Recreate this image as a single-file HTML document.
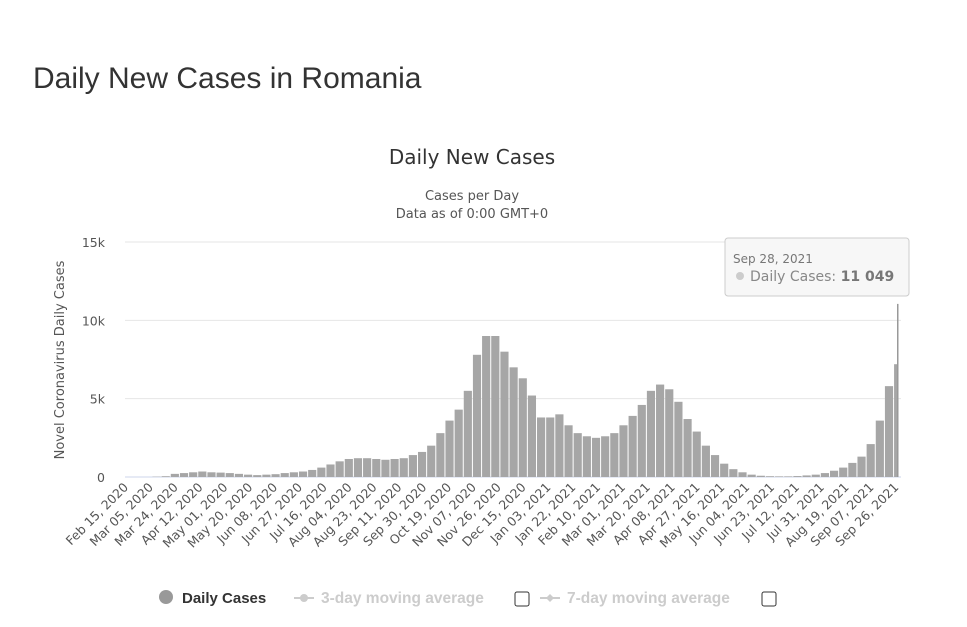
<!DOCTYPE html>
<html><head><meta charset="utf-8">
<style>
body{margin:0;background:#fff;font-family:"Liberation Sans",sans-serif;}
#wrap{position:relative;width:967px;height:627px;overflow:hidden;}
h1{position:absolute;left:33px;top:62px;margin:0;font-weight:normal;font-size:30px;color:#333;}
svg{position:absolute;left:0;top:0;}
</style></head><body>
<div id="wrap">
<h1>Daily New Cases in Romania</h1>
<svg id="chart" width="967" height="627" font-family="DejaVu Sans, Liberation Sans, sans-serif">
<text x="472" y="164" text-anchor="middle" font-size="20" fill="#333">Daily New Cases</text>
<text x="472" y="200" text-anchor="middle" font-size="13" fill="#555">Cases per Day</text>
<text x="472" y="218" text-anchor="middle" font-size="13" fill="#555">Data as of 0:00 GMT+0</text>
<text transform="translate(64,360) rotate(-90)" text-anchor="middle" font-size="13" fill="#555">Novel Coronavirus Daily Cases</text>
<g id="grid"></g><g id="bars"></g><g id="xlabels"></g>
<g>
<rect x="725" y="238" width="184" height="58" fill="#f7f7f7" stroke="#ccc" rx="3"/>
<text x="733" y="263" font-size="12" fill="#777">Sep 28, 2021</text>
<circle cx="740" cy="276" r="4" fill="#ccc"/>
<text x="750" y="281" font-size="14" fill="#888">Daily Cases: <tspan font-weight="bold" fill="#777">11 049</tspan></text>
</g>
<g font-family="Liberation Sans, sans-serif">
<g><circle cx="166" cy="597" r="7" fill="#999"/><text x="182" y="603" font-size="15" font-weight="bold" fill="#333">Daily Cases</text></g>
<g><line x1="294" y1="598" x2="314" y2="598" stroke="#ccc" stroke-width="2"/><circle cx="304" cy="598" r="4" fill="#ccc"/><text x="321" y="603" font-size="15.5" font-weight="bold" fill="#ccc">3-day moving average</text><rect x="515" y="592" width="14" height="14" fill="#fff" stroke="#333" rx="2"/></g>
<g><line x1="540" y1="598" x2="560" y2="598" stroke="#ccc" stroke-width="2"/><path d="M550 594 L554 598 L550 602 L546 598Z" fill="#ccc"/><text x="567" y="603" font-size="15.5" font-weight="bold" fill="#ccc">7-day moving average</text><rect x="762" y="592" width="14" height="14" fill="#fff" stroke="#333" rx="2"/></g>
</g>
</svg>
</div>
<script>
const weeklyCases=[0,0,0,20,50,200,250,300,350,300,280,250,200,150,120,150,180,250,300,350,450,600,800,1000,1150,1200,1200,1150,1100,1150,1200,1400,1600,2000,2800,3600,4300,5500,7800,9000,9000,8000,7000,6300,5200,3800,3800,4000,3300,2800,2600,2500,2600,2800,3300,3900,4600,5500,5900,5600,4800,3700,2900,2000,1400,850,500,300,150,80,50,40,40,60,100,150,250,400,600,900,1300,2100,3600,5800,7200];
const lastDayCases=11049;
const yTicks=[0,5000,10000,15000];
const yTickLabels=["0","5k","10k","15k"];
const xTickLabels=["Feb 15, 2020","Mar 05, 2020","Mar 24, 2020","Apr 12, 2020","May 01, 2020","May 20, 2020","Jun 08, 2020","Jun 27, 2020","Jul 16, 2020","Aug 04, 2020","Aug 23, 2020","Sep 11, 2020","Sep 30, 2020","Oct 19, 2020","Nov 07, 2020","Nov 26, 2020","Dec 15, 2020","Jan 03, 2021","Jan 22, 2021","Feb 10, 2021","Mar 01, 2021","Mar 20, 2021","Apr 08, 2021","Apr 27, 2021","May 16, 2021","Jun 04, 2021","Jun 23, 2021","Jul 12, 2021","Jul 31, 2021","Aug 19, 2021","Sep 07, 2021","Sep 26, 2021"];
const NS="http://www.w3.org/2000/svg";
const X0=125,X1=898,DAYS=591,Y0=477,YT=242,YMAX=15000;
const x=d=>X0+(X1-X0)*d/DAYS;
const y=v=>Y0-(Y0-YT)*v/YMAX;
function mk(t,a,p){const e=document.createElementNS(NS,t);for(const k in a)e.setAttribute(k,a[k]);p.appendChild(e);return e;}
const grid=document.getElementById('grid');
yTicks.forEach((v,i)=>{
 const l=mk('line',{x1:X0,x2:X1+3,y1:y(v),y2:y(v),stroke:i?'#e6e6e6':'#ccd6eb'},grid);
 
 
 const t=mk('text',{x:105,y:y(v)+5,'text-anchor':'end','font-size':12.5,fill:'#555'},grid);
 t.textContent=yTickLabels[i];
 
 
});
const bars=document.getElementById('bars');
const step=(X1-X0)/DAYS;
weeklyCases.forEach((v,i)=>{
 if(v<=0)return;
 const days=Math.min(7,DAYS-i*7);
 const r=mk('rect',{x:x(i*7),y:y(v),width:Math.max(1,days*step-1),height:Y0-y(v),fill:'#a6a6a6'},bars);
 
 
});
const lb=mk('rect',{x:x(DAYS)-1,y:y(lastDayCases),width:1.5,height:Y0-y(lastDayCases),fill:'#999'},bars);


const xl=document.getElementById('xlabels');
xTickLabels.forEach((s,i)=>{
 const px=x(i*19);
 const t=mk('text',{transform:`translate(${px+4},${488}) rotate(-45)`,'text-anchor':'end','font-size':12.5,fill:'#555'},xl);
 t.textContent=s;
 
 
});
</script>
</body></html>
